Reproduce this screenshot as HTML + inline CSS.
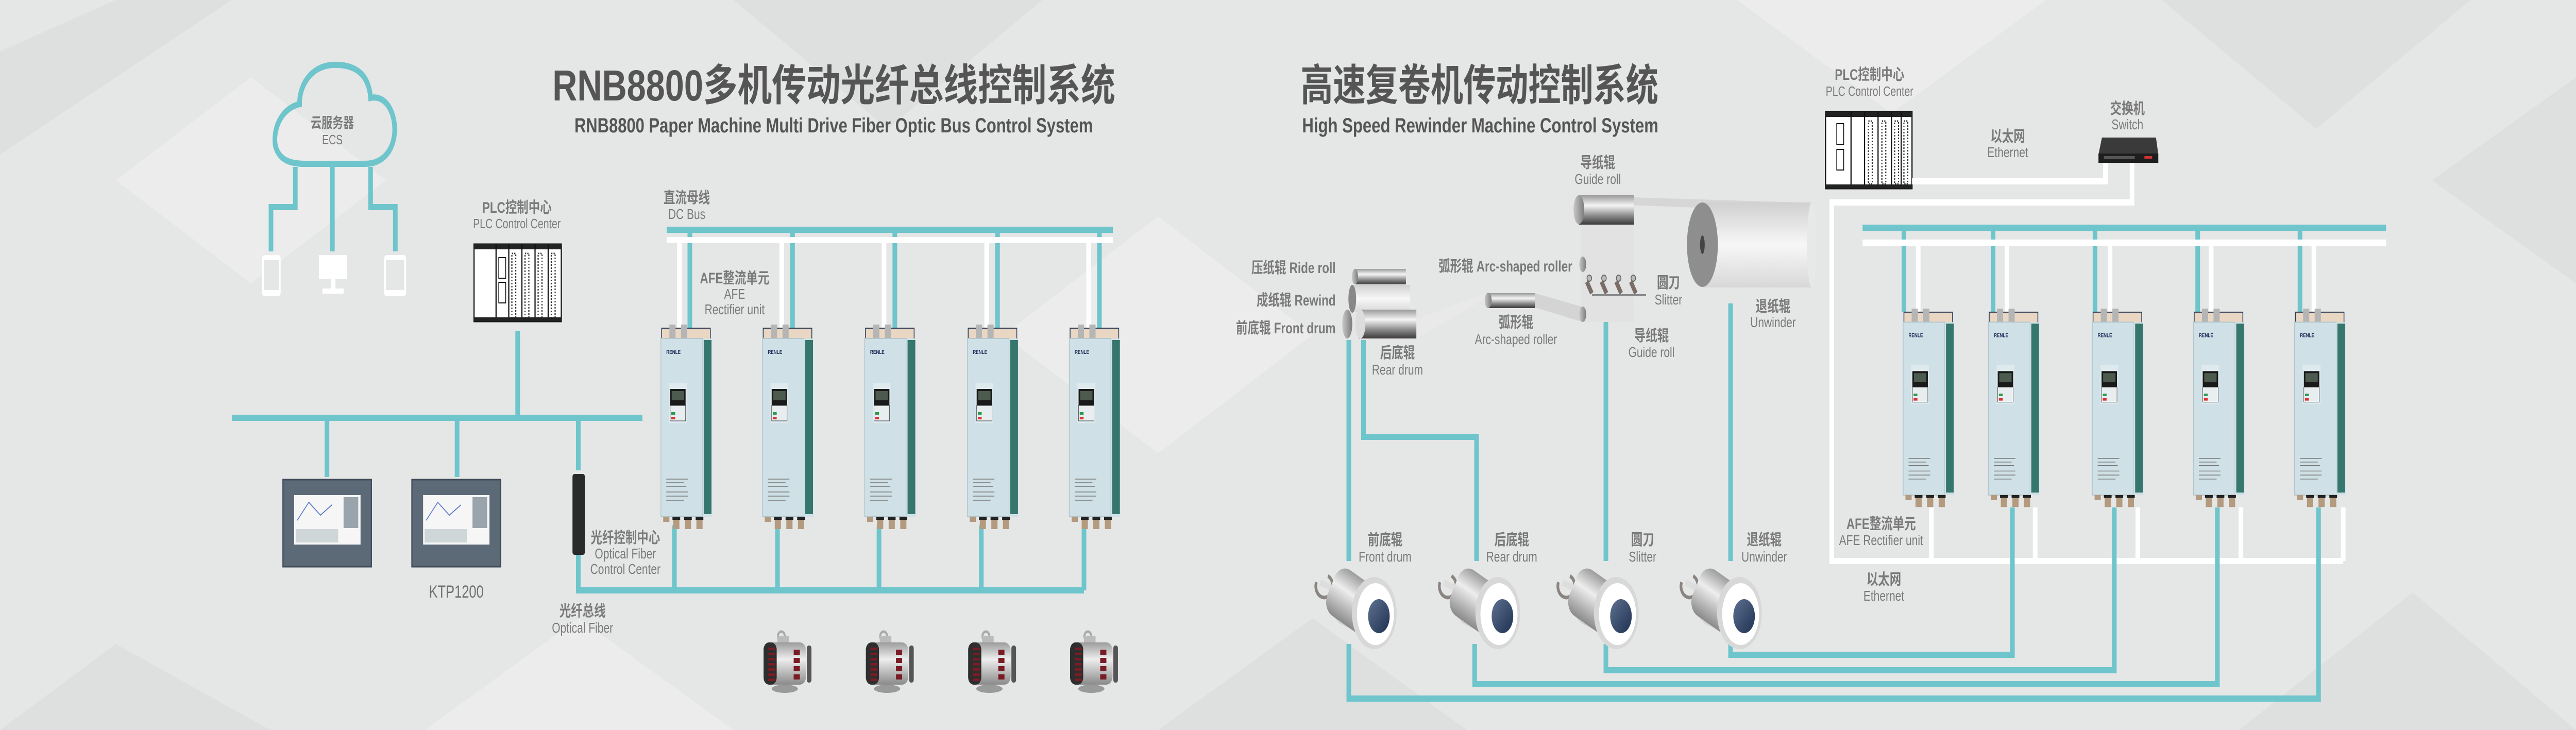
<!DOCTYPE html>
<html><head><meta charset="utf-8"><style>
html,body{margin:0;padding:0;background:#e5e6e6;overflow:hidden;width:100%;height:100%;}
svg{display:block;position:fixed;left:0;top:0;width:100vw;height:100vh;}
text{font-family:"Liberation Sans","Noto Sans CJK SC",sans-serif;}
</style></head><body>
<svg viewBox="0 0 6673 1417" preserveAspectRatio="none" xmlns="http://www.w3.org/2000/svg">
<defs>
<linearGradient id="cylH" x1="0" y1="0" x2="0" y2="1">
<stop offset="0" stop-color="#9a9a9a"/><stop offset="0.35" stop-color="#f4f4f4"/><stop offset="0.7" stop-color="#8a8a8a"/><stop offset="1" stop-color="#3c3a3a"/></linearGradient>
<linearGradient id="cylW" x1="0" y1="0" x2="0" y2="1">
<stop offset="0" stop-color="#d0d0d0"/><stop offset="0.5" stop-color="#f7f7f7"/><stop offset="1" stop-color="#d8d8d8"/></linearGradient>
<linearGradient id="endG" x1="0" y1="0" x2="1" y2="0">
<stop offset="0" stop-color="#c8c8c8"/><stop offset="1" stop-color="#7c7c7c"/></linearGradient>
<linearGradient id="motG" x1="0" y1="0" x2="0" y2="1">
<stop offset="0" stop-color="#9c9c9c"/><stop offset="0.4" stop-color="#eeeeee"/><stop offset="1" stop-color="#8a8a8a"/></linearGradient>
<linearGradient id="navy" x1="0" y1="0" x2="1" y2="1">
<stop offset="0" stop-color="#5f7190"/><stop offset="1" stop-color="#1e3152"/></linearGradient>
</defs>

<rect width="6673" height="1417" fill="#e5e6e6"/>
<g fill="#dcdddd" opacity="0.7">
<polygon points="0,100 300,0 600,0 0,300"/>
<polygon points="1900,0 2300,250 2700,0"/>
<polygon points="5600,0 6000,250 6400,0"/>
<polygon points="6300,350 6673,150 6673,550"/>
<polygon points="0,1417 300,1250 700,1417"/>
<polygon points="3000,1417 3400,1200 3800,1417"/>
<polygon points="5800,1417 6250,1150 6673,1417"/>
</g>
<g fill="#ededed" opacity="0.8">
<polygon points="300,350 650,150 1000,350 650,550"/>
<polygon points="2600,650 3000,420 3400,650 3000,880"/>
<polygon points="4500,0 4900,220 5300,0"/>
<polygon points="1100,1417 1500,1200 1900,1417"/>
</g>

<!-- LEFT SYSTEM -->
<text x="1431" y="195" font-size="84" font-weight="bold" fill="#555" textLength="1458" lengthAdjust="spacingAndGlyphs">RNB8800多机传动光纤总线控制系统</text>
<text x="1488" y="257" font-size="40" font-weight="bold" fill="#555" textLength="1343" lengthAdjust="spacingAndGlyphs">RNB8800 Paper Machine Multi Drive Fiber Optic Bus Control System</text>

<path d="M790 318 H945 C1010 318 1030 270 1020 232 C1010 198 985 186 960 190 C955 140 915 124 860 126 C800 130 775 170 776 202 C722 212 706 258 714 285 C724 310 750 318 790 318 Z" fill="none" stroke="#6ec5cb" stroke-width="12"/>
<text x="861" y="248" font-size="28" font-weight="bold" fill="#7a7a7a" text-anchor="middle">云服务器</text>
<text x="861" y="280" font-size="26" fill="#7a7a7a" text-anchor="middle">ECS</text>
<g fill="none" stroke="#6ec5cb" stroke-width="12">
<path d="M765 324 V402 H702 V488"/>
<path d="M861 324 V488"/>
<path d="M960 324 V402 H1024 V488"/>
</g>
<g fill="#ffffff">
<rect x="679" y="495" width="48" height="80" rx="7"/>
<rect x="826" y="495" width="73" height="46"/>
<rect x="857" y="541" width="12" height="20"/>
<rect x="835" y="560" width="55" height="10"/>
<rect x="995" y="495" width="57" height="80" rx="7"/>
</g>
<rect x="684" y="505" width="38" height="58" fill="#e5e6e6"/>
<rect x="1000" y="505" width="47" height="58" fill="#e5e6e6"/>

<text x="1339" y="413" font-size="30" font-weight="bold" fill="#7a7a7a" text-anchor="middle">PLC控制中心</text>
<text x="1339" y="443" font-size="26" fill="#7a7a7a" text-anchor="middle">PLC Control Center</text>
<g>
<rect x="1228" y="474" width="226" height="150" fill="#fff" stroke="#111" stroke-width="3"/>
<rect x="1228" y="474" width="226" height="10" fill="#222"/>
<line x1="1285" y1="474" x2="1285" y2="624" stroke="#111" stroke-width="3"/>
<line x1="1318" y1="474" x2="1318" y2="624" stroke="#111" stroke-width="3"/>
<line x1="1352" y1="474" x2="1352" y2="624" stroke="#111" stroke-width="3"/>
<line x1="1386" y1="474" x2="1386" y2="624" stroke="#111" stroke-width="3"/>
<line x1="1420" y1="474" x2="1420" y2="624" stroke="#111" stroke-width="3"/>
<rect x="1292" y="500" width="18" height="40" fill="#fff" stroke="#111" stroke-width="2"/>
<rect x="1292" y="548" width="18" height="40" fill="#fff" stroke="#111" stroke-width="2"/>
<rect x="1326" y="492" width="10" height="125" fill="none" stroke="#333" stroke-width="3" stroke-dasharray="3 3"/>
<rect x="1360" y="492" width="10" height="125" fill="none" stroke="#333" stroke-width="3" stroke-dasharray="3 3"/>
<rect x="1394" y="492" width="10" height="125" fill="none" stroke="#333" stroke-width="3" stroke-dasharray="3 3"/>
<rect x="1428" y="492" width="10" height="125" fill="none" stroke="#333" stroke-width="3" stroke-dasharray="3 3"/>
<rect x="1228" y="616" width="226" height="8" fill="#222"/>
</g>

<g fill="none" stroke="#6ec5cb" stroke-width="12">
<path d="M1341 642 V811"/>
<path d="M601 811 H1664"/>
<path d="M847 811 V926"/>
<path d="M1184 811 V926"/>
<path d="M1498 811 V913"/>
</g>

<g>
<rect x="733" y="931" width="229" height="169" fill="#5c6a78" stroke="#3f4b57" stroke-width="3"/>
<rect x="762" y="961" width="172" height="96" fill="#f6f6f6"/>
<rect x="766" y="1027" width="110" height="26" fill="#cfd6d8"/>
<polyline points="770,1010 800,975 830,1000 860,980" fill="none" stroke="#5878c8" stroke-width="2"/>
<rect x="890" y="965" width="38" height="60" fill="#9aa4ad"/>
<rect x="1067" y="931" width="230" height="169" fill="#5c6a78" stroke="#3f4b57" stroke-width="3"/>
<rect x="1096" y="961" width="172" height="96" fill="#f6f6f6"/>
<rect x="1100" y="1027" width="110" height="26" fill="#cfd6d8"/>
<polyline points="1104,1010 1134,975 1164,1000 1194,980" fill="none" stroke="#5878c8" stroke-width="2"/>
<rect x="1224" y="965" width="38" height="60" fill="#9aa4ad"/>
</g>
<text x="1182" y="1160" font-size="34" fill="#707070" text-anchor="middle">KTP1200</text>

<rect x="1483" y="920" width="32" height="157" rx="5" fill="#2a2a2a"/>
<text x="1620" y="1054" font-size="30" font-weight="bold" fill="#7a7a7a" text-anchor="middle">光纤控制中心</text>
<text x="1620" y="1084" font-size="28" fill="#7a7a7a" text-anchor="middle">Optical Fiber</text>
<text x="1620" y="1114" font-size="28" fill="#7a7a7a" text-anchor="middle">Control Center</text>

<g fill="none" stroke="#6ec5cb" stroke-width="12">
<path d="M1498 1077 V1146 H2808"/>
<path d="M1747 1020 V1146"/>
<path d="M2014 1020 V1146"/>
<path d="M2277 1020 V1146"/>
<path d="M2542 1020 V1146"/>
<path d="M2808 1020 V1146"/>
</g>
<text x="1509" y="1196" font-size="30" font-weight="bold" fill="#7a7a7a" text-anchor="middle">光纤总线</text>
<text x="1509" y="1228" font-size="28" fill="#7a7a7a" text-anchor="middle">Optical Fiber</text>

<text x="1779" y="394" font-size="30" font-weight="bold" fill="#7a7a7a" text-anchor="middle">直流母线</text>
<text x="1779" y="425" font-size="28" fill="#7a7a7a" text-anchor="middle">DC Bus</text>
<g fill="none" stroke="#6ec5cb" stroke-width="12">
<path d="M1727 446 H2883"/>
<path d="M1787 446 V636"/><path d="M2053 446 V636"/><path d="M2318 446 V636"/><path d="M2584 446 V636"/><path d="M2848 446 V636"/>
</g>
<g fill="none" stroke="#ffffff" stroke-width="12">
<path d="M1727 466 H2883"/>
<path d="M1760 466 V636"/><path d="M2025 466 V636"/><path d="M2290 466 V636"/><path d="M2556 466 V636"/><path d="M2820 466 V636"/>
</g>
<text x="1903" y="550" font-size="30" font-weight="bold" fill="#7a7a7a" text-anchor="middle">AFE整流单元</text>
<text x="1903" y="580" font-size="28" fill="#7a7a7a" text-anchor="middle">AFE</text>
<text x="1903" y="610" font-size="28" fill="#7a7a7a" text-anchor="middle">Rectifier unit</text>

<g id="drvL">
<g transform="translate(1712,635)">
<rect x="2" y="2" width="126" height="22" fill="#ead7c3" stroke="#2a3a55" stroke-width="2"/>
<rect x="22" y="-5" width="16" height="28" fill="#b5b5b5"/><rect x="52" y="-5" width="16" height="28" fill="#b5b5b5"/>
<rect x="0" y="22" width="108" height="346" fill="#cfe1e6" stroke="#b3c6cc" stroke-width="2"/>
<rect x="108" y="22" width="24" height="346" fill="#cfe1e6"/>
<rect x="111" y="25" width="20" height="338" fill="#35766d"/>
<text x="14" y="52" font-size="11" font-weight="bold" fill="#1f2c5a">RENLE</text>
<rect x="21" y="108" width="46" height="78" fill="#dfeaee"/>
<rect x="24" y="120" width="40" height="32" fill="#1a1a1a"/>
<rect x="28" y="124" width="32" height="18" fill="#4d5a4e"/>
<rect x="24" y="152" width="40" height="30" fill="#e8eef0" stroke="#333" stroke-width="1"/>
<rect x="27" y="165" width="10" height="5" fill="#2c9a50"/><rect x="27" y="174" width="10" height="5" fill="#d33"/>
<g stroke="#777" stroke-width="1.5"><line x1="14" y1="295" x2="70" y2="295"/><line x1="14" y1="302" x2="60" y2="302"/><line x1="14" y1="309" x2="66" y2="309"/><line x1="14" y1="320" x2="70" y2="320"/><line x1="14" y1="328" x2="70" y2="328"/><line x1="14" y1="336" x2="60" y2="336"/></g>
<rect x="6" y="368" width="16" height="10" fill="#b49a7e"/>
<rect x="30" y="368" width="20" height="6" fill="#222"/><rect x="32" y="374" width="16" height="18" fill="#b49a7e"/>
<rect x="60" y="368" width="20" height="6" fill="#222"/><rect x="62" y="374" width="16" height="18" fill="#b49a7e"/>
<rect x="90" y="368" width="20" height="6" fill="#222"/><rect x="92" y="374" width="16" height="18" fill="#b49a7e"/>
</g>
</g>
<g transform="translate(263,0)"><use href="#drvL"/></g>
<g transform="translate(528,0)"><use href="#drvL"/></g>
<g transform="translate(794,0)"><use href="#drvL"/></g>
<g transform="translate(1058,0)"><use href="#drvL"/></g>

<g id="motL">
<g transform="translate(1978,1225)">
<circle cx="46" cy="10" r="9" fill="none" stroke="#aaa" stroke-width="5"/>
<rect x="36" y="10" width="30" height="15" fill="#bbb"/>
<rect x="0" y="22" width="110" height="82" rx="16" fill="url(#motG)"/>
<rect x="0" y="22" width="34" height="82" rx="14" fill="#2e2e2e"/>
<g fill="#7a1c24"><rect x="12" y="32" width="18" height="5"/><rect x="12" y="42" width="18" height="5"/><rect x="12" y="52" width="18" height="5"/><rect x="12" y="62" width="18" height="5"/><rect x="12" y="72" width="18" height="5"/><rect x="12" y="82" width="18" height="5"/><rect x="12" y="92" width="18" height="5"/>
<rect x="78" y="36" width="16" height="10"/><rect x="78" y="52" width="16" height="10"/><rect x="78" y="68" width="16" height="10"/><rect x="78" y="84" width="16" height="10"/></g>
<rect x="112" y="28" width="12" height="72" rx="5" fill="#555"/>
<ellipse cx="55" cy="112" rx="34" ry="8" fill="#9a9a9a"/>
</g>
</g>
<g transform="translate(265,0)"><use href="#motL"/></g>
<g transform="translate(530,0)"><use href="#motL"/></g>
<g transform="translate(794,0)"><use href="#motL"/></g>

<!-- RIGHT SYSTEM -->
<text x="3369" y="195" font-size="84" font-weight="bold" fill="#555" textLength="927" lengthAdjust="spacingAndGlyphs">高速复卷机传动控制系统</text>
<text x="3373" y="257" font-size="40" font-weight="bold" fill="#555" textLength="923" lengthAdjust="spacingAndGlyphs">High Speed Rewinder Machine Control System</text>

<text x="4843" y="155" font-size="30" font-weight="bold" fill="#7a7a7a" text-anchor="middle">PLC控制中心</text>
<text x="4843" y="186" font-size="26" fill="#7a7a7a" text-anchor="middle">PLC Control Center</text>
<g>
<rect x="4729" y="217" width="224" height="149" fill="#fff" stroke="#111" stroke-width="3"/>
<rect x="4729" y="217" width="224" height="10" fill="#222"/>
<line x1="4795" y1="217" x2="4795" y2="366" stroke="#111" stroke-width="3"/>
<line x1="4830" y1="217" x2="4830" y2="366" stroke="#111" stroke-width="3"/>
<line x1="4865" y1="217" x2="4865" y2="366" stroke="#111" stroke-width="3"/>
<line x1="4900" y1="217" x2="4900" y2="366" stroke="#111" stroke-width="3"/>
<line x1="4925" y1="217" x2="4925" y2="366" stroke="#111" stroke-width="3"/>
<rect x="4758" y="240" width="18" height="40" fill="#fff" stroke="#111" stroke-width="2"/>
<rect x="4758" y="290" width="18" height="40" fill="#fff" stroke="#111" stroke-width="2"/>
<rect x="4840" y="235" width="10" height="122" fill="none" stroke="#333" stroke-width="3" stroke-dasharray="3 3"/>
<rect x="4875" y="235" width="10" height="122" fill="none" stroke="#333" stroke-width="3" stroke-dasharray="3 3"/>
<rect x="4908" y="235" width="10" height="122" fill="none" stroke="#333" stroke-width="3" stroke-dasharray="3 3"/>
<rect x="4932" y="235" width="10" height="122" fill="none" stroke="#333" stroke-width="3" stroke-dasharray="3 3"/>
<rect x="4729" y="358" width="224" height="8" fill="#222"/>
</g>
<text x="5201" y="275" font-size="30" font-weight="bold" fill="#7a7a7a" text-anchor="middle">以太网</text>
<text x="5201" y="305" font-size="28" fill="#7a7a7a" text-anchor="middle">Ethernet</text>
<text x="5511" y="221" font-size="30" font-weight="bold" fill="#7a7a7a" text-anchor="middle">交换机</text>
<text x="5511" y="251" font-size="28" fill="#7a7a7a" text-anchor="middle">Switch</text>
<polygon points="5445,267 5585,267 5591,300 5436,300" fill="#3a3a3a"/>
<rect x="5436" y="298" width="155" height="18" fill="#1e1e1e"/>
<rect x="5450" y="303" width="80" height="6" fill="#555"/>
<rect x="5555" y="303" width="20" height="5" fill="#c33"/>

<g fill="none" stroke="#ffffff" stroke-width="12">
<path d="M4953 352 H5454 V316"/>
<path d="M5523 316 V393 H4745 V1089 H6070"/>
<path d="M5003 985 V1089"/><path d="M5272 985 V1089"/><path d="M5538 985 V1089"/><path d="M5805 985 V1089"/><path d="M6070 985 V1089"/>
</g>

<g fill="none" stroke="#6ec5cb" stroke-width="12">
<path d="M4825 442 H6181"/>
<path d="M4932 442 V606"/><path d="M5163 442 V606"/><path d="M5427 442 V606"/><path d="M5693 442 V606"/><path d="M5958 442 V606"/>
</g>
<g fill="none" stroke="#ffffff" stroke-width="12">
<path d="M4825 471 H6181"/>
<path d="M4969 471 V606"/><path d="M5199 471 V606"/><path d="M5466 471 V606"/><path d="M5728 471 V606"/><path d="M5994 471 V606"/>
</g>

<g transform="translate(4930,604) scale(1,0.97)"><g transform="translate(-1712,-635)"><use href="#drvL"/></g></g>
<g transform="translate(5151,604) scale(1,0.97)"><g transform="translate(-1712,-635)"><use href="#drvL"/></g></g>
<g transform="translate(5420,604) scale(1,0.97)"><g transform="translate(-1712,-635)"><use href="#drvL"/></g></g>
<g transform="translate(5682,604) scale(1,0.97)"><g transform="translate(-1712,-635)"><use href="#drvL"/></g></g>
<g transform="translate(5944,604) scale(1,0.97)"><g transform="translate(-1712,-635)"><use href="#drvL"/></g></g>

<text x="4873" y="1027" font-size="30" font-weight="bold" fill="#7a7a7a" text-anchor="middle">AFE整流单元</text>
<text x="4873" y="1058" font-size="28" fill="#7a7a7a" text-anchor="middle">AFE Rectifier unit</text>
<text x="4880" y="1135" font-size="30" font-weight="bold" fill="#7a7a7a" text-anchor="middle">以太网</text>
<text x="4880" y="1166" font-size="28" fill="#7a7a7a" text-anchor="middle">Ethernet</text>

<g fill="none" stroke="#6ec5cb" stroke-width="12">
<path d="M5213 985 V1271 H4483 V1250"/>
<path d="M5477 985 V1301 H4160 V1250"/>
<path d="M5744 985 V1328 H3820 V1250"/>
<path d="M6006 985 V1356 H3494 V1250"/>
<path d="M3494 660 V1089"/>
<path d="M3532 660 V848 H3825 V1089"/>
<path d="M4160 624 V1089"/>
<path d="M4483 589 V1089"/>
</g>

<g font-size="30" fill="#7a7a7a" text-anchor="middle">
<text x="3588" y="1058" font-weight="bold">前底辊</text><text x="3588" y="1090" font-size="28">Front drum</text>
<text x="3916" y="1058" font-weight="bold">后底辊</text><text x="3916" y="1090" font-size="28">Rear drum</text>
<text x="4255" y="1058" font-weight="bold">圆刀</text><text x="4255" y="1090" font-size="28">Slitter</text>
<text x="4570" y="1058" font-weight="bold">退纸辊</text><text x="4570" y="1090" font-size="28">Unwinder</text>
</g>

<g id="motR">
<g transform="translate(3400,1100)">
<path d="M10 30 A22 22 0 1 0 40 18" fill="none" stroke="#8a8580" stroke-width="7"/>
<rect x="22" y="25" width="40" height="12" fill="#ddd" transform="rotate(20 22 25)"/>
<polygon points="45,90 110,120 135,135 70,110" fill="#d0d0d0"/>
<g transform="rotate(28 110 70)">
<rect x="40" y="20" width="150" height="100" rx="30" fill="url(#motG)"/>
</g>
<ellipse cx="160" cy="90" rx="58" ry="70" fill="#d8d8d8"/>
<ellipse cx="163" cy="92" rx="48" ry="60" fill="#ffffff"/>
<ellipse cx="172" cy="96" rx="28" ry="33" fill="url(#navy)"/>
</g>
</g>
<g transform="translate(320,0)"><use href="#motR"/></g>
<g transform="translate(627,0)"><use href="#motR"/></g>
<g transform="translate(946,0)"><use href="#motR"/></g>

<polygon points="4100,380 4660,393 4660,410 4100,395" fill="#d6d6d6"/>
<polygon points="4095,395 4233,395 4233,625 4095,625" fill="#e2e2e2"/>
<polygon points="3535,657 3669,657 3860,575 3850,569" fill="#e9e9e9"/>
<polygon points="3855,569 3976,569 4100,596 4100,625" fill="#d4d4d4"/>
<rect x="4410" y="393" width="283" height="165" fill="url(#cylW)"/>
<ellipse cx="4693" cy="475" rx="12" ry="82" fill="#e8e8e8"/>
<ellipse cx="4410" cy="475" rx="40" ry="82" fill="#8e8e8e"/>
<ellipse cx="4410" cy="475" rx="6" ry="18" fill="#444"/>
<rect x="4090" y="379" width="143" height="57" fill="url(#cylH)"/>
<ellipse cx="4090" cy="407" rx="14" ry="28" fill="url(#endG)"/>
<ellipse cx="4100" cy="513" rx="9" ry="15" fill="url(#endG)"/>
<ellipse cx="4100" cy="610" rx="9" ry="15" fill="url(#endG)"/>
<g fill="#7a6d66">
<rect x="4112" y="545" width="10" height="26" transform="rotate(-30 4117 558)"/>
<rect x="4150" y="545" width="10" height="26" transform="rotate(-30 4155 558)"/>
<rect x="4188" y="545" width="10" height="26" transform="rotate(-30 4193 558)"/>
<rect x="4226" y="545" width="10" height="26" transform="rotate(-30 4231 558)"/>
</g>
<g fill="#bbb" stroke="#666" stroke-width="2">
<circle cx="4117" cy="540" r="6"/><circle cx="4155" cy="540" r="6"/><circle cx="4193" cy="540" r="6"/><circle cx="4231" cy="540" r="6"/>
</g>
<rect x="4124" y="571" width="140" height="4" fill="#888"/>
<rect x="3855" y="569" width="121" height="29" fill="url(#cylH)"/>
<ellipse cx="3855" cy="583" rx="9" ry="15" fill="url(#endG)"/>
<rect x="3510" y="522" width="132" height="30" fill="url(#cylH)"/>
<ellipse cx="3510" cy="537" rx="8" ry="15" fill="url(#endG)"/>
<rect x="3503" y="553" width="150" height="53" fill="url(#cylW)"/>
<ellipse cx="3503" cy="580" rx="10" ry="27" fill="#888"/>
<rect x="3520" y="601" width="149" height="56" fill="url(#cylH)"/>
<ellipse cx="3490" cy="629" rx="13" ry="28" fill="url(#endG)"/>
<ellipse cx="3524" cy="629" rx="13" ry="28" fill="#dcdcdc"/>

<g font-size="30" fill="#7a7a7a">
<text x="3460" y="530" text-anchor="end" font-weight="bold">压纸辊 Ride roll</text>
<text x="3460" y="593" text-anchor="end" font-weight="bold">成纸辊 Rewind</text>
<text x="3460" y="647" text-anchor="end" font-weight="bold">前底辊 Front drum</text>
<text x="3620" y="695" text-anchor="middle" font-weight="bold">后底辊</text>
<text x="3620" y="727" text-anchor="middle" font-size="28">Rear drum</text>
<text x="4073" y="527" text-anchor="end" font-weight="bold">弧形辊 Arc-shaped roller</text>
<text x="3927" y="636" text-anchor="middle" font-weight="bold">弧形辊</text>
<text x="3927" y="668" text-anchor="middle" font-size="28">Arc-shaped roller</text>
<text x="4139" y="326" text-anchor="middle" font-weight="bold">导纸辊</text>
<text x="4139" y="357" text-anchor="middle" font-size="28">Guide roll</text>
<text x="4322" y="559" text-anchor="middle" font-weight="bold">圆刀</text>
<text x="4322" y="591" text-anchor="middle" font-size="28">Slitter</text>
<text x="4593" y="605" text-anchor="middle" font-weight="bold">退纸辊</text>
<text x="4593" y="635" text-anchor="middle" font-size="28">Unwinder</text>
<text x="4278" y="662" text-anchor="middle" font-weight="bold">导纸辊</text>
<text x="4278" y="693" text-anchor="middle" font-size="28">Guide roll</text>
</g>
</svg>
</body></html>
